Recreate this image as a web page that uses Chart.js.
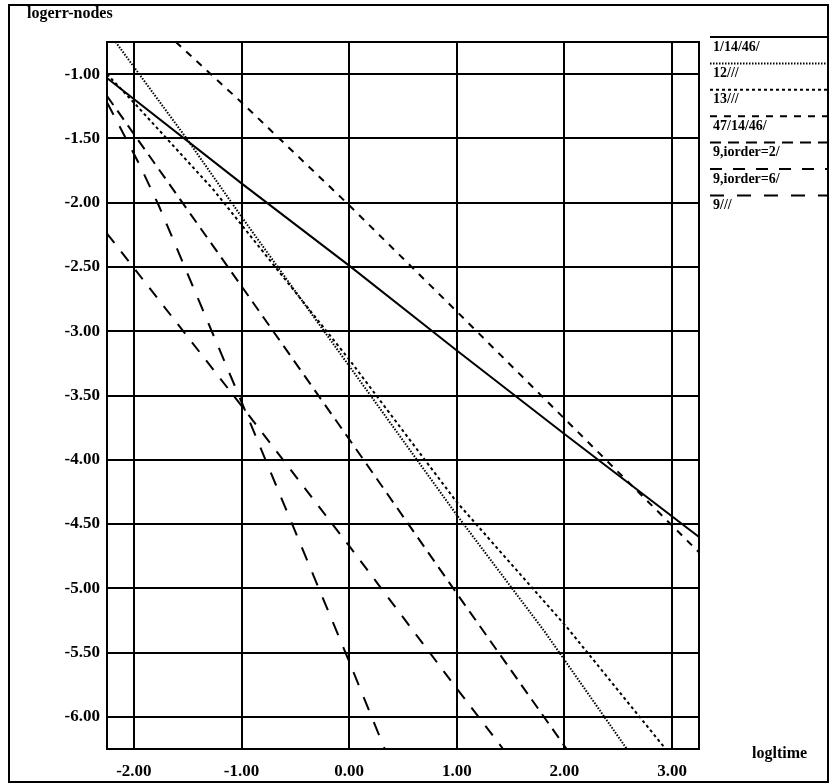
<!DOCTYPE html>
<html>
<head>
<meta charset="utf-8">
<script src="https://cdn.jsdelivr.net/npm/chart.js@4/dist/chart.umd.min.js"></script>
<style>
  body { margin: 0; background: #fff; }
  #wrap { width: 829px; height: 784px; }
</style>
</head>
<body>
<div id="wrap"><canvas id="chart" width="829" height="784"></canvas></div>
<script>
// tick values
const xTicks = [-2, -1, 0, 1, 2, 3];
const yTicks = [-1, -1.5, -2, -2.5, -3, -3.5, -4, -4.5, -5, -5.5, -6];

const seriesLabels = ["1/14/46/", "12///", "13///", "47/14/46/", "9,iorder=2/", "9,iorder=6/", "9///"];

// series (log time, log err)
const x_1_14_46 = [-2.25, -1, 0, 1, 2, 3.25];
const y_1_14_46 = [-1.03, -1.85, -2.49, -3.15, -3.80, -4.60];

const x_12 = [-2.17, -1.52, -1, 0, 1, 1.81, 2.58];
const y_12 = [-0.75, -1.49, -2.11, -3.27, -4.43, -5.33, -6.25];

const x_13 = [-2.25, -1.98, -1.26, 0, 1, 2.02, 2.94];
const y_13 = [-1.00, -1.24, -1.90, -3.22, -4.33, -5.30, -6.25];

const x_47_14_46 = [-1.61, -1, 0, 0.98, 2, 3.25];
const y_47_14_46 = [-0.75, -1.22, -2.02, -2.83, -3.68, -4.72];

const x_9_o2 = [-2.25, -1, 0, 1, 2.02];
const y_9_o2 = [-1.17, -2.65, -3.84, -5.04, -6.25];

const x_9_o6 = [-2.25, -1, 0, 1, 1.43];
const y_9_o6 = [-2.24, -3.58, -4.67, -5.78, -6.25];

const x_9 = [-2.25, -1.95, -1.77, -1.04, 0, 0.33];
const y_9 = [-1.22, -1.70, -2.02, -3.47, -5.57, -6.25];

const seriesX = [x_1_14_46, x_12, x_13, x_47_14_46, x_9_o2, x_9_o6, x_9];
const seriesY = [y_1_14_46, y_12, y_13, y_47_14_46, y_9_o2, y_9_o6, y_9];

// line styles
const dashes = [[], [1.5, 1.5], [3, 3], [7, 7], [11, 7], [12, 11], [14, 13]];
const widths = [2, 2, 2, 2, 2, 2, 2];

function toPoints(xs, ys) {
  return xs.map((x, i) => ({ x: x, y: ys[i] }));
}

const serif = "'Liberation Serif', 'DejaVu Serif', serif";

// frame, titles and the legend (label under its line sample)
const decor = {
  id: "decor",
  afterDraw(chart) {
    const { ctx, chartArea: a } = chart;
    ctx.save();
    ctx.strokeStyle = "#000";
    ctx.fillStyle = "#000";
    ctx.lineWidth = 2;
    ctx.setLineDash([]);
    ctx.strokeRect(a.left, a.top, a.right - a.left, a.bottom - a.top);
    ctx.strokeRect(9, 5, 819, 777);

    ctx.font = "bold 16px " + serif;
    ctx.textBaseline = "alphabetic";
    ctx.textAlign = "left";
    ctx.fillText("logerr-nodes", 27, 18);
    ctx.fillText("logltime", 752, 758);

    chart.data.datasets.forEach((ds, i) => {
      const y = 37 + i * 26.4;
      ctx.lineWidth = 2;
      ctx.setLineDash(ds.borderDash || []);
      ctx.beginPath();
      ctx.moveTo(710, y);
      ctx.lineTo(829, y);
      ctx.stroke();
      ctx.setLineDash([]);
      ctx.font = "bold 14px " + serif;
      ctx.textBaseline = "top";
      ctx.fillText(ds.label, 713, y + 3);
    });
    ctx.restore();
  }
};

const datasets = seriesLabels.map((label, i) => ({
  label: label,
  data: toPoints(seriesX[i], seriesY[i]),
  showLine: true,
  borderColor: "#000",
  borderWidth: widths[i],
  borderDash: dashes[i],
  pointRadius: 0,
  fill: false,
  tension: 0
}));

new Chart(document.getElementById("chart"), {
  type: "scatter",
  data: { datasets: datasets },
  options: {
    responsive: false,
    animation: false,
    layout: { padding: { left: 0, top: 42, right: 130, bottom: 0 } },
    plugins: { legend: { display: false }, tooltip: { enabled: false } },
    scales: {
      x: {
        type: "linear",
        min: -2.25,
        max: 3.25,
        afterBuildTicks: ax => { ax.ticks = xTicks.map(v => ({ value: v })); },
        afterFit: s => { s.height = 35; },
        ticks: {
          callback: v => v.toFixed(2),
          color: "#000",
          font: { family: serif, size: 17, weight: "bold" },
          padding: 12,
          maxRotation: 0,
          autoSkip: false
        },
        grid: { color: "#000", lineWidth: 2, drawTicks: false },
        border: { color: "#000", width: 2 }
      },
      y: {
        type: "linear",
        min: -6.25,
        max: -0.75,
        afterBuildTicks: ax => { ax.ticks = yTicks.map(v => ({ value: v })); },
        afterFit: s => { s.width = 107; },
        ticks: {
          callback: v => v.toFixed(2),
          color: "#000",
          font: { family: serif, size: 17, weight: "bold" },
          padding: 7,
          autoSkip: false
        },
        grid: { color: "#000", lineWidth: 2, drawTicks: false },
        border: { color: "#000", width: 2 }
      }
    }
  },
  plugins: [decor]
});
</script>
</body>
</html>
